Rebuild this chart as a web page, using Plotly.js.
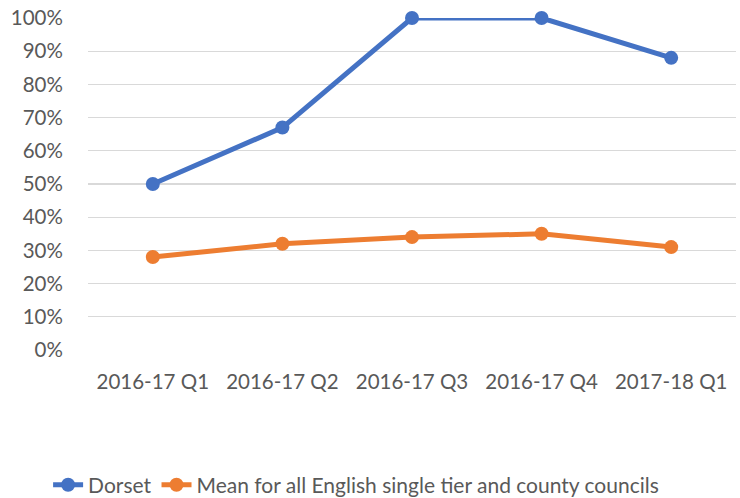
<!DOCTYPE html>
<html><head><meta charset="utf-8">
<script src="https://cdn.plot.ly/plotly-3.0.1.min.js"></script>
<style>body{margin:0;background:#fff}#c{width:740px;height:498px}</style>
</head><body><div id="c"></div>
<script>
const categories = ["2016-17 Q1","2016-17 Q2","2016-17 Q3","2016-17 Q4","2017-18 Q1"];
const dorset = [0.50, 0.67, 1.00, 1.00, 0.88];
const meanAll = [0.28, 0.32, 0.34, 0.35, 0.31];
const seriesNames = ["Dorset","Mean for all English single tier and county councils"];
const fontFam = "Lato, Open Sans, sans-serif";
const traces = [
 {x:categories,y:dorset,name:seriesNames[0],type:"scatter",mode:"lines+markers",
  line:{color:"#4472C4",width:5},marker:{color:"#4472C4",size:14},cliponaxis:false},
 {x:categories,y:meanAll,name:seriesNames[1],type:"scatter",mode:"lines+markers",
  line:{color:"#ED7D31",width:5},marker:{color:"#ED7D31",size:14},cliponaxis:false}
];
const layout = {
 width:740,height:498,paper_bgcolor:"#fff",plot_bgcolor:"#fff",
 margin:{l:88,r:4,t:18,b:148},
 font:{family:fontFam,color:"#595959",size:20.5},
 xaxis:{type:"category",range:[-0.5,4.5],showgrid:false,zeroline:false,showline:false,
  ticks:"outside",ticklen:13,tickcolor:"rgba(0,0,0,0)",tickfont:{size:20.5,color:"#595959"}},
 yaxis:{range:[0,1],tickvals:[0,0.1,0.2,0.3,0.4,0.5,0.6,0.7,0.8,0.9,1],tickformat:".0%",
  gridcolor:"#D9D9D9",gridwidth:1.3,zeroline:false,showline:false,
  ticks:"outside",ticklen:20,tickcolor:"rgba(0,0,0,0)",tickfont:{size:20.5,color:"#595959"}},
 showlegend:true,
 legend:{orientation:"h",x:0.065,xanchor:"left",xref:"container",y:0.026,yref:"container",yanchor:"middle",
  font:{size:21,color:"#595959"},itemwidth:30,tracegroupgap:0}
};
Plotly.newPlot("c",traces,layout,{displayModeBar:false,staticPlot:true});
</script></body></html>
